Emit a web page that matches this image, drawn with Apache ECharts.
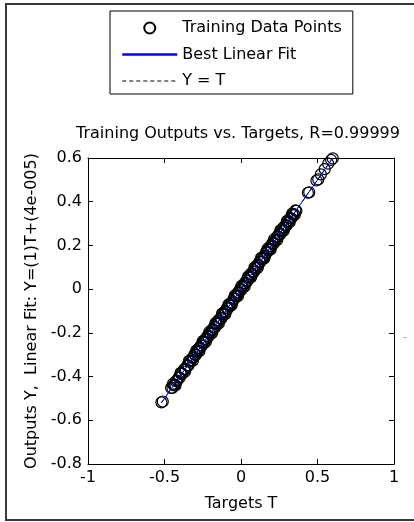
<!DOCTYPE html>
<html>
<head>
<meta charset="utf-8">
<script src="https://cdn.jsdelivr.net/npm/echarts@6/dist/echarts.min.js"></script>
<style>
  html, body { margin: 0; padding: 0; background: #fff; }
  #chart { width: 414px; height: 522px; }
</style>
</head>
<body>
<div id="chart"></div>
<script>
// training targets T and network outputs Y
let targets = [
  -0.520, -0.511, -0.457, -0.448, -0.441, -0.433, -0.425, -0.417, -0.408, -0.401,
  -0.392, -0.384, -0.371, -0.362, -0.351, -0.343, -0.336, -0.327, -0.319, -0.311,
  -0.304, -0.297, -0.289, -0.283, -0.276, -0.268, -0.262, -0.255, -0.247, -0.241,
  -0.234, -0.226, -0.219, -0.213, -0.205, -0.198, -0.191, -0.184, -0.176, -0.170,
  -0.163, -0.155, -0.149, -0.141, -0.134, -0.128, -0.120, -0.113, -0.106, -0.099,
  -0.092, -0.085, -0.077, -0.071, -0.063, -0.057, -0.049, -0.042, -0.036, -0.028,
  -0.021, -0.014, -0.007, 0.000, 0.008, 0.014, 0.021, 0.029, 0.035, 0.043,
  0.049, 0.057, 0.064, 0.071, 0.078, 0.085, 0.092, 0.099, 0.107, 0.113,
  0.121, 0.127, 0.135, 0.142, 0.149, 0.156, 0.163, 0.171, 0.177, 0.185,
  0.191, 0.199, 0.206, 0.213, 0.220, 0.227, 0.234, 0.242, 0.248, 0.256,
  0.262, 0.270, 0.277, 0.284, 0.291, 0.298, 0.306, 0.313, 0.321, 0.329,
  0.337, 0.346, 0.355, 0.362, 0.437, 0.446, 0.493, 0.505, 0.522, 0.547,
  0.570, 0.589, 0.600,
  -0.445, -0.428, -0.395, -0.366, -0.340, -0.315, -0.293, -0.272, -0.250, -0.230,
  -0.208, -0.188, -0.167, -0.145, -0.124, -0.103, -0.082, -0.061, -0.040, -0.019,
  0.003, 0.024, 0.046, 0.067, 0.088, 0.109, 0.131, 0.152, 0.173, 0.194,
  0.216, 0.237, 0.258, 0.279, 0.300, 0.318, 0.334, 0.351
];
let outputs = [
  -0.518, -0.514, -0.452, -0.452, -0.439, -0.438, -0.421, -0.419, -0.404, -0.405,
  -0.388, -0.387, -0.366, -0.367, -0.349, -0.349, -0.331, -0.329, -0.315, -0.314,
  -0.298, -0.302, -0.286, -0.288, -0.271, -0.270, -0.257, -0.259, -0.243, -0.246,
  -0.229, -0.229, -0.214, -0.218, -0.203, -0.204, -0.186, -0.186, -0.172, -0.175,
  -0.158, -0.158, -0.143, -0.146, -0.132, -0.134, -0.115, -0.115, -0.102, -0.104,
  -0.087, -0.088, -0.071, -0.076, -0.061, -0.063, -0.044, -0.044, -0.032, -0.033,
  -0.016, -0.017, -0.001, -0.005, 0.010, 0.008, 0.026, 0.027, 0.039, 0.038,
  0.054, 0.054, 0.070, 0.066, 0.080, 0.079, 0.097, 0.097, 0.111, 0.108,
  0.126, 0.124, 0.141, 0.137, 0.151, 0.150, 0.168, 0.169, 0.181, 0.180,
  0.196, 0.196, 0.212, 0.208, 0.222, 0.221, 0.239, 0.240, 0.252, 0.251,
  0.267, 0.267, 0.283, 0.279, 0.293, 0.292, 0.311, 0.311, 0.325, 0.324,
  0.341, 0.343, 0.360, 0.358, 0.441, 0.443, 0.497, 0.502, 0.525, 0.549,
  0.574, 0.591, 0.598,
  -0.433, -0.440, -0.383, -0.378, -0.328, -0.327, -0.281, -0.284, -0.238, -0.242,
  -0.196, -0.200, -0.155, -0.157, -0.112, -0.115, -0.070, -0.073, -0.028, -0.031,
  0.015, 0.012, 0.058, 0.055, 0.100, 0.097, 0.143, 0.140, 0.185, 0.182,
  0.228, 0.225, 0.270, 0.267, 0.312, 0.306, 0.346, 0.339
];
// best linear fit Y = (1)T + (4e-005) and the ideal Y = T, over the data range
let fitT = [-0.520, 0.600];
let fitY = [-0.51996, 0.60004];
let idealT = [-0.520, 0.600];
let idealY = [-0.520, 0.600];

let xTicks = { min: -1, max: 1, step: 0.5 };
let yTicks = { min: -0.8, max: 0.6, step: 0.2 };

let font = 'DejaVu Sans';

function zip (a, b)
{
  return a.map(function (v, i) { return [v, b[i]]; });
}

let chart = echarts.init(document.getElementById('chart'), null, { renderer: 'canvas' });

let tickFont = { color: '#000', fontFamily: font, fontSize: 16 };

function axisBase (pos, show, t)
{
  return {
    type: 'value',
    position: pos,
    min: t.min,
    max: t.max,
    interval: t.step,
    axisLine: { show: true, onZero: false, lineStyle: { color: '#000', width: 1 } },
    axisTick: { show: true, inside: true, length: 5, lineStyle: { color: '#000' } },
    axisLabel: Object.assign({ show: show, margin: 6 }, tickFont),
    splitLine: { show: false }
  };
}

let xBottom = axisBase('bottom', true, xTicks);
xBottom.name = 'Targets T';
xBottom.nameLocation = 'middle';
xBottom.nameGap = 32;
xBottom.nameTextStyle = { color: '#000', fontFamily: font, fontSize: 16 };

let yLeft = axisBase('left', true, yTicks);
yLeft.name = 'Outputs Y,  Linear Fit: Y=(1)T+(4e-005)';
yLeft.nameLocation = 'middle';
yLeft.nameGap = 46;
yLeft.nameTextStyle = { color: '#000', fontFamily: font, fontSize: 16 };

// legend icons for the two lines: line only, no symbol
let noSymbol = { color: 'rgba(0,0,0,0)', borderWidth: 0, opacity: 0 };

let option = {
  backgroundColor: '#fff',
  animation: false,
  title: {
    text: 'Training Outputs vs. Targets, R=0.99999',
    left: 238,
    top: 126,
    textAlign: 'center',
    padding: 0,
    textStyle: { color: '#000', fontFamily: font, fontSize: 16, fontWeight: 'normal' }
  },
  legend: {
    orient: 'vertical',
    left: 110,
    top: 11,
    padding: [9, 11, 5, 11],
    itemGap: 10.5,
    itemWidth: 55,
    itemHeight: 11,
    borderColor: '#000',
    borderWidth: 1,
    backgroundColor: '#fff',
    selectedMode: false,
    textStyle: { color: '#000', fontFamily: font, fontSize: 16, lineHeight: 16 },
    data: [
      { name: 'Training Data Points' },
      { name: 'Best Linear Fit', lineStyle: { width: 2.5 }, itemStyle: noSymbol },
      { name: 'Y = T', lineStyle: { width: 1 }, itemStyle: noSymbol }
    ]
  },
  grid: {
    left: 88,
    top: 158,
    right: 20,
    bottom: 58,
    containLabel: false,
    outerBoundsMode: 'none'
  },
  xAxis: [xBottom, axisBase('top', false, xTicks)],
  yAxis: [yLeft, axisBase('right', false, yTicks)],
  series: [
    {
      name: 'Training Data Points',
      type: 'scatter',
      symbol: 'circle',
      symbolSize: 11,
      itemStyle: { color: 'rgba(0,0,0,0)', borderColor: '#000', borderWidth: 1.2, opacity: 1 },
      data: zip(targets, outputs),
      z: 2
    },
    {
      name: 'Y = T',
      type: 'line',
      symbol: 'none',
      lineStyle: { color: '#000', width: 1, type: [4, 3] },
      itemStyle: { color: '#000' },
      data: zip(idealT, idealY),
      z: 3
    },
    {
      name: 'Best Linear Fit',
      type: 'line',
      symbol: 'none',
      lineStyle: { color: '#0000ff', width: 1 },
      itemStyle: { color: '#0000ff' },
      data: zip(fitT, fitY),
      z: 4
    }
  ],
  graphic: [
    {
      type: 'rect',
      shape: { x: 6, y: 4, width: 420, height: 516 },
      style: { fill: null, stroke: '#3a3a3a', lineWidth: 2 },
      silent: true,
      z: 100
    },
    {
      type: 'line',
      shape: { x1: 403, y1: 337.5, x2: 407, y2: 337.5 },
      style: { stroke: '#bbb', lineWidth: 1 },
      silent: true
    }
  ]
};

chart.setOption(option);
</script>
</body>
</html>
